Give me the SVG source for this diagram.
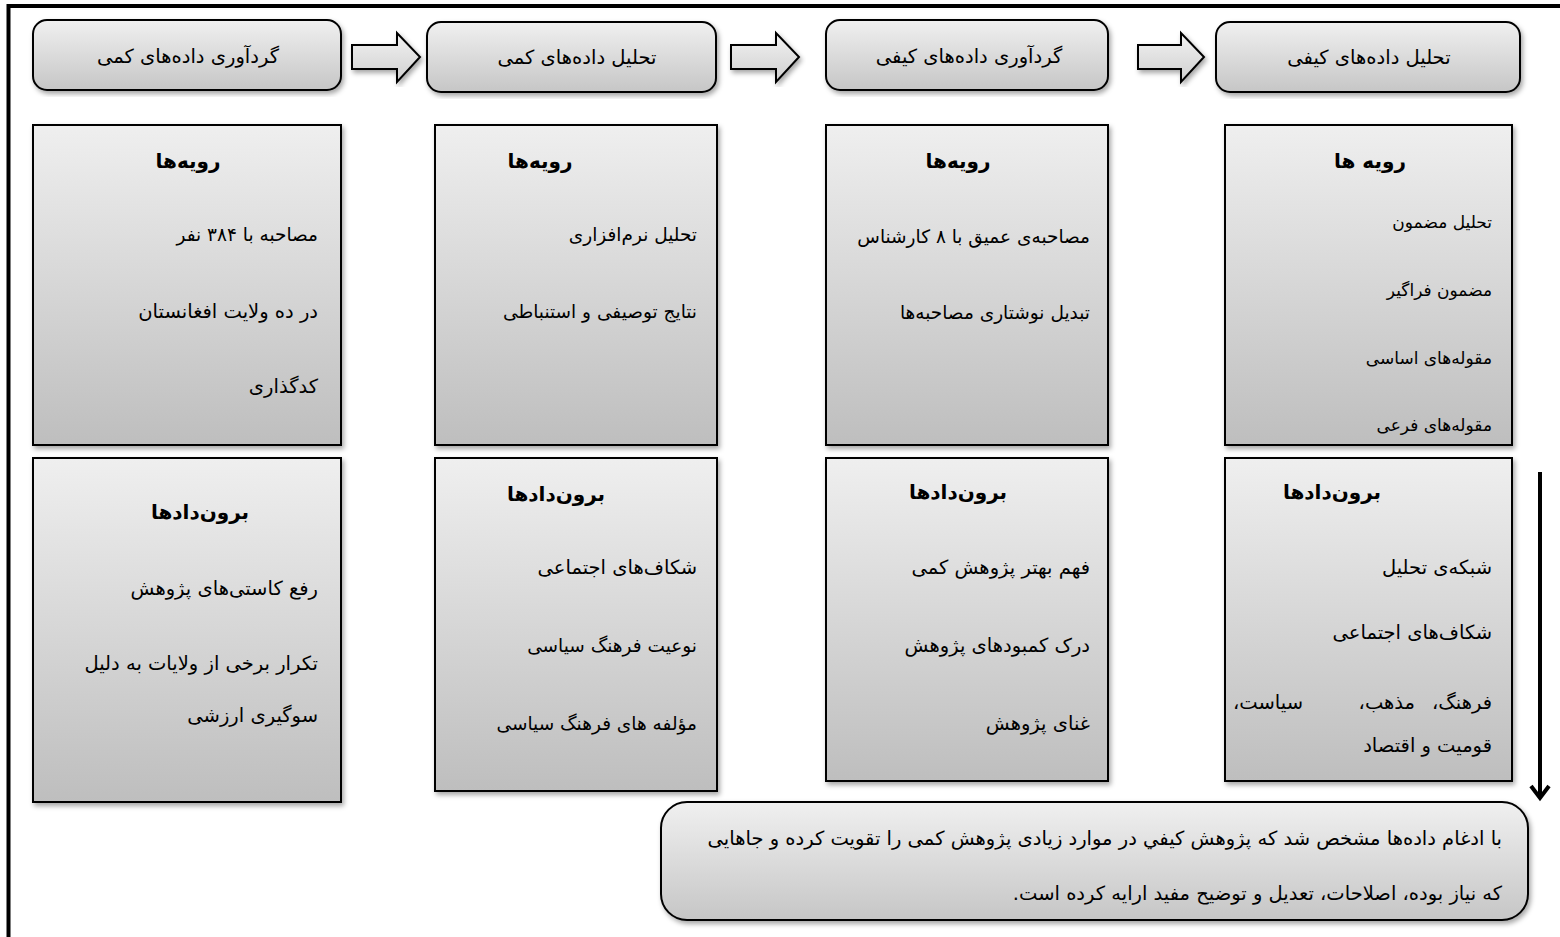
<svg xmlns="http://www.w3.org/2000/svg" width="1560" height="937" viewBox="0 0 1560 937">
  <defs>
    <linearGradient id="gHead" x1="0" y1="0" x2="0" y2="1">
      <stop offset="0" stop-color="#f0f0f0"/>
      <stop offset="1" stop-color="#c6c6c6"/>
    </linearGradient>
    <linearGradient id="gBox" x1="0" y1="0" x2="0" y2="1">
      <stop offset="0" stop-color="#efefef"/>
      <stop offset="1" stop-color="#bebebe"/>
    </linearGradient>
    <linearGradient id="gArrow" x1="0" y1="0" x2="0" y2="1">
      <stop offset="0" stop-color="#f2f2f2"/>
      <stop offset="1" stop-color="#cfcfcf"/>
    </linearGradient>
    <filter id="shadow" x="-5%" y="-5%" width="115%" height="115%">
      <feDropShadow dx="2" dy="3" stdDeviation="2.5" flood-color="#000" flood-opacity="0.35"/>
    </filter>
    <!-- open chevron head, drawn pointing along +x so orient="auto" turns it with the line -->
    <marker id="downHead" viewBox="0 0 24 24" refX="20" refY="12" markerWidth="24" markerHeight="24" markerUnits="userSpaceOnUse" orient="auto">
      <path d="M8,3 L20,12 L8,21" fill="none" stroke="#000" stroke-width="4" stroke-linejoin="miter"/>
    </marker>
  </defs>
  <style>
    .head { fill: url(#gHead); stroke: #000; stroke-width: 2; filter: url(#shadow); }
    .box { fill: url(#gBox); stroke: #000; stroke-width: 2; filter: url(#shadow); }
    .flow { fill: url(#gArrow); stroke: #000; stroke-width: 2; filter: url(#shadow); }
    text { font-family: "DejaVu Sans", "Noto Sans", sans-serif; fill: #000; direction: rtl; unicode-bidi: embed; }
    .ht { font-size: 19.5px; text-anchor: middle; }
    .title { font-size: 20px; font-weight: bold; text-anchor: middle; }
    .item { font-size: 18.5px; text-anchor: start; }
    .small { font-size: 17px; }
    .big { font-size: 19.5px; }
    .note { font-size: 19.5px; text-anchor: start; }
  </style>

  <rect width="1560" height="937" fill="#fff"/>
  <!-- outer frame, running past the right and bottom edges -->
  <path d="M8.5,940 L8.5,6 L1570,6" fill="none" stroke="#000" stroke-width="4"/>

  <!-- stage headers -->
  <g id="h1"><rect class="head" x="33" y="20" width="308" height="70" rx="14"/><text class="ht" x="188" y="63">گردآوری داده‌های کمی</text></g>
  <g id="h2"><rect class="head" x="427" y="22" width="289" height="70" rx="14"/><text class="ht" x="577" y="64">تحلیل داده‌های کمی</text></g>
  <g id="h3"><rect class="head" x="826" y="20" width="282" height="70" rx="14"/><text class="ht" x="969" y="63">گردآوری داده‌های کیفی</text></g>
  <g id="h4"><rect class="head" x="1216" y="22" width="304" height="70" rx="14"/><text class="ht" x="1369" y="64">تحلیل داده‌های کیفی</text></g>

  <!-- procedure boxes -->
  <g id="p1">
    <rect class="box" x="33" y="125" width="308" height="320"/>
    <text class="title" x="188" y="168">رویه‌ها</text>
    <text class="item" x="318" y="241">مصاحبه با ۳۸۴ نفر</text>
    <text class="item big" x="318" y="318">در ده ولایت افغانستان</text>
    <text class="item big" x="318" y="393">کدگذاری</text>
  </g>
  <g id="p2">
    <rect class="box" x="435" y="125" width="282" height="320"/>
    <text class="title" x="540" y="168">رویه‌ها</text>
    <text class="item" x="697" y="241">تحلیل نرم‌افزاری</text>
    <text class="item" x="697" y="318">نتایج توصیفی و استنباطی</text>
  </g>
  <g id="p3">
    <rect class="box" x="826" y="125" width="282" height="320"/>
    <text class="title" x="958" y="168">رویه‌ها</text>
    <text class="item" x="1090" y="243">مصاحبه‌ی عمیق با ۸ کارشناس</text>
    <text class="item" x="1090" y="319">تبدیل نوشتاری مصاحبه‌ها</text>
  </g>
  <g id="p4">
    <rect class="box" x="1225" y="125" width="287" height="320"/>
    <text class="title" x="1370" y="168">رویه ها</text>
    <text class="item small" x="1492" y="228">تحلیل مضمون</text>
    <text class="item small" x="1492" y="296">مضمون فراگیر</text>
    <text class="item small" x="1492" y="364">مقوله‌های اساسی</text>
    <text class="item small" x="1492" y="431">مقوله‌های فرعی</text>
  </g>

  <!-- output boxes -->
  <g id="o1">
    <rect class="box" x="33" y="458" width="308" height="344"/>
    <text class="title" x="200" y="519">برون‌دادها</text>
    <text class="item big" x="318" y="595">رفع کاستی‌های پژوهش</text>
    <text class="item big" x="318" y="670">تکرار برخی از ولایات به دلیل</text>
    <text class="item big" x="318" y="722">سوگیری ارزشی</text>
  </g>
  <g id="o2">
    <rect class="box" x="435" y="458" width="282" height="333"/>
    <text class="title" x="556" y="501">برون‌دادها</text>
    <text class="item big" x="697" y="574">شکاف‌های اجتماعی</text>
    <text class="item" x="697" y="652">نوعیت فرهنگ سیاسی</text>
    <text class="item" x="697" y="730">مؤلفه های فرهنگ سیاسی</text>
  </g>
  <g id="o3">
    <rect class="box" x="826" y="458" width="282" height="323"/>
    <text class="title" x="958" y="499">برون‌دادها</text>
    <text class="item big" x="1090" y="574">فهم بهتر پژوهش کمی</text>
    <text class="item big" x="1090" y="652">درک کمبودهای پژوهش</text>
    <text class="item big" x="1090" y="730">غنای پژوهش</text>
  </g>
  <g id="o4">
    <rect class="box" x="1225" y="458" width="287" height="323"/>
    <text class="title" x="1332" y="499">برون‌دادها</text>
    <text class="item big" x="1492" y="574">شبکه‌ی تحلیل</text>
    <text class="item big" x="1492" y="639">شکاف‌های اجتماعی</text>
    <text class="item big" x="1492" y="709">فرهنگ،</text>
    <text class="item big" x="1415" y="709">مذهب،</text>
    <text class="item big" x="1303" y="709">سیاست،</text>
    <text class="item big" x="1492" y="752">قومیت و اقتصاد</text>
  </g>

  <!-- conclusion -->
  <g id="summary">
    <rect class="head" x="661" y="802" width="867" height="118" rx="26"/>
    <text class="note" x="1502" y="845">با ادغام داده‌ها مشخص شد که پژوهش کیفي در موارد زیادی پژوهش کمی را تقویت کرده و جاهایی</text>
    <text class="note" x="1502" y="900">که نیاز بوده، اصلاحات، تعدیل و توضیح مفید ارایه کرده است.</text>
  </g>

  <!-- connectors -->
  <g id="connectors">
    <path class="flow" d="M352,45 H397 V33 L420,57 L397,82 V69 H352 Z"/>
    <path class="flow" d="M731,45 H776 V33 L799,57 L776,82 V69 H731 Z"/>
    <path class="flow" d="M1138,45 H1181 V33 L1204,57 L1181,82 V69 H1138 Z"/>
    <line x1="1540" y1="472" x2="1540" y2="798" stroke="#000" stroke-width="4" marker-end="url(#downHead)"/>
  </g>
</svg>
